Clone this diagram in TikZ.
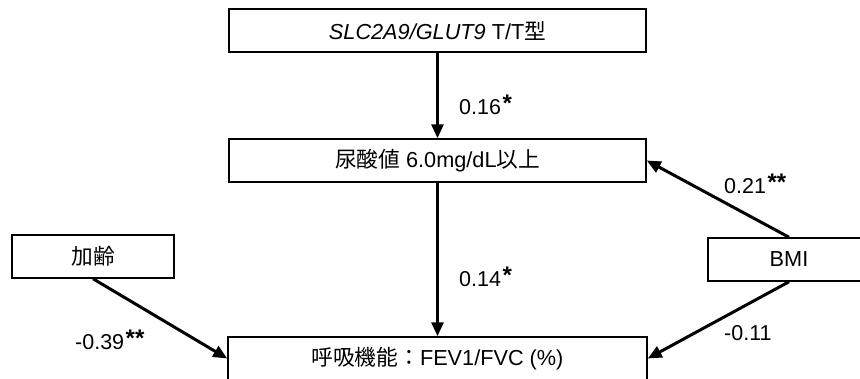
\documentclass[tikz,border=0pt]{standalone}
\usepackage{fontspec}
\setmainfont{Liberation Sans}
\newfontfamily\cjk{Noto Sans CJK JP}
\usetikzlibrary{arrows.meta}
\newcommand{\stars}[1]{\hspace{1.5pt}\raisebox{3pt}{\fontsize{24}{24}\selectfont\bfseries #1}}
\tikzset{
  box/.style={draw=black, line width=1.5pt, rectangle, minimum height=43pt, inner sep=0pt, font=\fontsize{21.7}{24}\selectfont},
  path/.style={line width=3pt, -{Triangle[length=14pt,width=12pt]}},
  lab/.style={anchor=base west, inner sep=0pt, font=\fontsize{21.5}{24}\selectfont}
}
\begin{document}
\begin{tikzpicture}[x=1pt,y=-1pt]
\useasboundingbox (0,0) rectangle (860,378);
\clip (0,0) rectangle (860,378);
\node[box, minimum width=417pt] (gene) at (437.5,30.5) {\textit{SLC2A9/GLUT9} T/T{\cjk 型}};
\node[box, minimum width=417pt] (ua) at (437.5,160.5) {{\cjk 尿酸値} 6.0mg/dL{\cjk 以上}};
\node[box, minimum width=419pt] (fev) at (437.5,358.5) {{\cjk 呼吸機能：}FEV1/FVC (\%)};
\node[box, minimum width=162pt] (age) at (93,256.5) {\cjk 加齢};
\node[box, minimum width=162pt] (bmi) at (789,259.5) {BMI};
\draw[path] (gene.south) -- (ua.north);
\draw[path] (ua.south) -- (fev.north);
\draw[path] (age.south) -- (fev.west);
\draw[path] (bmi.north) -- (ua.east);
\draw[path] (bmi.south) -- (fev.east);
\node[lab] (l1) at (459,114) {0.16\stars{*}};
\node[lab] (l2) at (459,286) {0.14\stars{*}};
\node[lab] (l3) at (724,193) {0.21\stars{**}};
\node[lab] (l4) at (724,340) {-0.11};
\node[lab] (l5) at (75,349) {-0.39\stars{**}};
\end{tikzpicture}
\end{document}
